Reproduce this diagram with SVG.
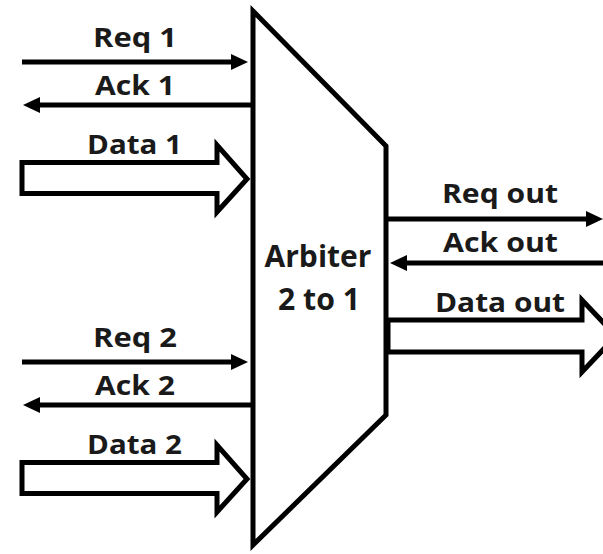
<svg xmlns="http://www.w3.org/2000/svg" width="603" height="554" viewBox="0 0 603 554">
  <style>
    .wire { stroke: #000; stroke-width: 5; fill: none; }
    .bus { stroke: #000; stroke-width: 5; fill: #fff; stroke-linejoin: miter; }
    .block { stroke: #000; stroke-width: 5; fill: #fff; stroke-linejoin: miter; }
    .lbl { font-family: "Open Sans", "Liberation Sans", sans-serif; font-weight: bold; font-size: 26px; fill: #1a1a1a; text-anchor: middle; }
    .big { font-size: 30px; }
  </style>
  <defs>
    <marker id="head" markerUnits="userSpaceOnUse" markerWidth="18" markerHeight="17" refX="6" refY="8" orient="auto">
      <path d="M0,0 L17,8 L0,16 z" fill="#000"/>
    </marker>
  </defs>

  <rect width="603" height="554" fill="#fff"/>

  <!-- arbiter block -->
  <g id="arbiter">
    <polygon class="block" points="253,11 386,146 386,415 253,545"/>
    <text class="lbl big" x="318" y="267" textLength="107" lengthAdjust="spacingAndGlyphs">Arbiter</text>
    <text class="lbl big" x="319" y="310" textLength="82" lengthAdjust="spacingAndGlyphs">2 to 1</text>
  </g>

  <!-- handshake and data connectors -->
  <g id="connectors">
    <!-- port 1 -->
    <line class="wire" x1="22" y1="62" x2="237" y2="62" marker-end="url(#head)"/>
    <line class="wire" x1="251" y1="105" x2="34" y2="105" marker-end="url(#head)"/>
    <polygon class="bus" points="22,162.5 217,162.5 217,145 247,179 217,212 217,193.5 22,193.5"/>
    <!-- port 2 -->
    <line class="wire" x1="22" y1="362" x2="237" y2="362" marker-end="url(#head)"/>
    <line class="wire" x1="251" y1="405" x2="34" y2="405" marker-end="url(#head)"/>
    <polygon class="bus" points="22,462.5 217,462.5 217,445 247,479 217,512 217,493.5 22,493.5"/>
    <!-- output port -->
    <line class="wire" x1="388" y1="219" x2="592" y2="219" marker-end="url(#head)"/>
    <line class="wire" x1="605" y1="263" x2="401" y2="263" marker-end="url(#head)"/>
    <polygon class="bus" points="388,320 582,320 582,300 616,336 582,372 582,352 388,352"/>
  </g>

  <g id="labels">
    <text class="lbl" x="135" y="47" textLength="84" lengthAdjust="spacingAndGlyphs">Req 1</text>
    <text class="lbl" x="135" y="95" textLength="80" lengthAdjust="spacingAndGlyphs">Ack 1</text>
    <text class="lbl" x="134.5" y="154" textLength="95" lengthAdjust="spacingAndGlyphs">Data 1</text>
    <text class="lbl" x="135" y="347" textLength="84" lengthAdjust="spacingAndGlyphs">Req 2</text>
    <text class="lbl" x="135" y="395" textLength="80" lengthAdjust="spacingAndGlyphs">Ack 2</text>
    <text class="lbl" x="134.5" y="454" textLength="95" lengthAdjust="spacingAndGlyphs">Data 2</text>
    <text class="lbl" x="500" y="203" textLength="116" lengthAdjust="spacingAndGlyphs">Req out</text>
    <text class="lbl" x="500.5" y="252" textLength="115" lengthAdjust="spacingAndGlyphs">Ack out</text>
    <text class="lbl" x="500" y="312" textLength="130" lengthAdjust="spacingAndGlyphs">Data out</text>
  </g>
</svg>
